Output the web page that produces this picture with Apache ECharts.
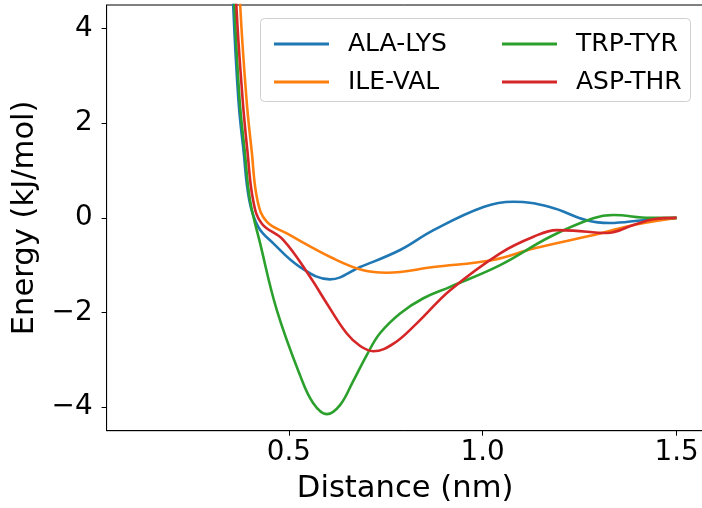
<!DOCTYPE html>
<html>
<head>
<meta charset="utf-8">
<script src="https://cdn.jsdelivr.net/npm/echarts@6/dist/echarts.min.js"></script>
<style>
  html, body { margin: 0; padding: 0; background: #fff; }
  #main { width: 702px; height: 508px; }
</style>
</head>
<body>
<div id="main"></div>
<script>
// values
const seriesNames = ['ALA-LYS', 'ILE-VAL', 'TRP-TYR', 'ASP-THR'];
const seriesColors = ['#1f77b4', '#ff7f0e', '#2ca02c', '#d62728'];

const alaLysX = [0.344, 0.356, 0.370, 0.383, 0.398, 0.421, 0.46, 0.529, 0.606, 0.684, 0.787, 0.873, 1.002, 1.079, 1.173, 1.268, 1.328, 1.414, 1.5];
const alaLysY = [7.5, 4.6, 2.49, 1.43, 0.37, -0.19, -0.54, -1.04, -1.30, -1.04, -0.68, -0.26, 0.23, 0.34, 0.23, -0.05, -0.11, -0.05, 0.0];

const ileValX = [0.362, 0.374, 0.391, 0.404, 0.419, 0.443, 0.495, 0.615, 0.692, 0.753, 0.873, 1.027, 1.131, 1.303, 1.389, 1.5];
const ileValY = [7.5, 4.6, 2.49, 1.43, 0.37, -0.08, -0.33, -0.86, -1.11, -1.16, -1.04, -0.89, -0.65, -0.33, -0.15, 0.0];

const trpTyrX = [0.347, 0.359, 0.373, 0.386, 0.400, 0.426, 0.469, 0.529, 0.563, 0.598, 0.632, 0.666, 0.701, 0.735, 0.787, 0.847, 0.916, 1.045, 1.174, 1.285, 1.337, 1.432, 1.5];
const trpTyrY = [7.5, 4.6, 2.49, 1.43, 0.37, -0.54, -1.95, -3.33, -3.92, -4.15, -3.96, -3.45, -2.90, -2.44, -2.02, -1.70, -1.46, -1.00, -0.40, -0.01, 0.06, 0.0, 0.0];

const aspThrX = [0.352, 0.364, 0.381, 0.393, 0.408, 0.430, 0.486, 0.555, 0.598, 0.649, 0.684, 0.718, 0.770, 0.830, 0.916, 1.045, 1.131, 1.191, 1.234, 1.320, 1.389, 1.44, 1.5];
const aspThrY = [7.5, 4.6, 2.49, 1.43, 0.37, -0.12, -0.47, -1.25, -1.81, -2.44, -2.71, -2.82, -2.66, -2.23, -1.53, -0.75, -0.40, -0.26, -0.27, -0.32, -0.15, -0.03, 0.0];

const xTicks = [0.5, 1.0, 1.5];
const yTicks = [-4, -2, 0, 2, 4];

const allX = [alaLysX, ileValX, trpTyrX, aspThrX];
const allY = [alaLysY, ileValY, trpTyrY, aspThrY];

const font = 'DejaVu Sans';
const chart = echarts.init(document.getElementById('main'), null, { renderer: 'canvas' });

const series = seriesNames.map((name, i) => ({
    name: name,
    type: 'line',
    data: allX[i].map((x, j) => [x, allY[i][j]]),
    showSymbol: false,
    smooth: 0.4,
    clip: true,
    lineStyle: { color: seriesColors[i], width: 2.6 },
    itemStyle: { color: seriesColors[i] },
    z: 2
}));

const legendText = { fontFamily: font, fontSize: 25, color: '#000', lineHeight: 26, padding: [0, 0, 0, 14] };

const option = {
    animation: false,
    backgroundColor: '#fff',
    grid: {
        left: 106.6, right: -1.7, top: 5, bottom: 77.3,
        outerBoundsMode: 'none',
        show: true, borderColor: '#000', borderWidth: 1
    },
    xAxis: {
        type: 'value',
        min: 0.03, max: 1.57,
        name: 'Distance (nm)',
        nameLocation: 'middle',
        nameGap: 43,
        nameTextStyle: { fontFamily: font, fontSize: 30.6, color: '#000' },
        axisLine: { show: true, onZero: false, lineStyle: { color: '#000', width: 1 } },
        axisTick: { show: true, length: 5, customValues: xTicks, lineStyle: { color: '#000' } },
        axisLabel: {
            customValues: xTicks, margin: 8,
            fontFamily: font, fontSize: 27.8, color: '#000',
            formatter: v => v.toFixed(1)
        },
        splitLine: { show: false }
    },
    yAxis: {
        type: 'value',
        min: -4.5, max: 4.5,
        name: 'Energy (kJ/mol)',
        nameLocation: 'middle',
        nameGap: 58,
        nameTextStyle: { fontFamily: font, fontSize: 30.6, color: '#000' },
        axisLine: { show: true, onZero: false, lineStyle: { color: '#000', width: 1 } },
        axisTick: { show: true, length: 5, customValues: yTicks, lineStyle: { color: '#000' } },
        axisLabel: {
            customValues: yTicks, margin: 14,
            fontFamily: font, fontSize: 27.8, color: '#000',
            formatter: v => (v < 0 ? '\u2212' + Math.abs(v) : String(v))
        },
        splitLine: { show: false }
    },
    legend: [
        {
            data: ['ALA-LYS', 'ILE-VAL'],
            orient: 'vertical',
            left: 269, top: 26,
            icon: 'rect', itemWidth: 55, itemHeight: 3,
            itemGap: 12,
            textStyle: legendText,
            z: 20
        },
        {
            data: ['TRP-TYR', 'ASP-THR'],
            orient: 'vertical',
            left: 497, top: 26,
            icon: 'rect', itemWidth: 55, itemHeight: 3,
            itemGap: 12,
            textStyle: legendText,
            z: 20
        }
    ],
    graphic: [{
        type: 'rect',
        shape: { x: 260.5, y: 18.5, width: 430, height: 83, r: 4 },
        style: { fill: 'rgba(255,255,255,0.8)', stroke: '#d0d0d0', lineWidth: 1 },
        z: 10,
        silent: true
    }],
    series: series
};

option && chart.setOption(option);
</script>
</body>
</html>
